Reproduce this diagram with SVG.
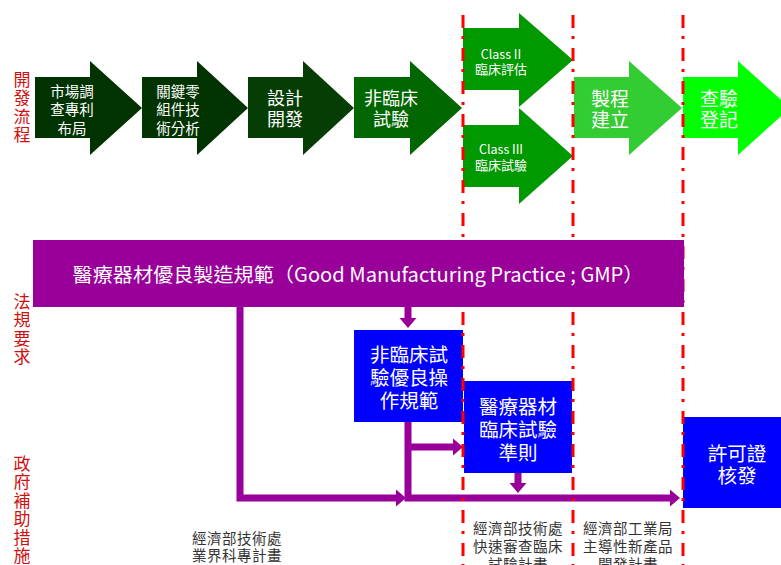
<svg xmlns="http://www.w3.org/2000/svg" width="781" height="565" viewBox="0 0 781 565">
<defs>
<style>
.t{font-family:"Noto Sans CJK TC","Noto Sans",sans-serif;fill:#fff;text-anchor:middle;dominant-baseline:central}
.lab{font-family:"Noto Sans CJK TC",sans-serif;fill:#d01010;font-size:17px;text-anchor:middle;dominant-baseline:central}
.note{font-family:"Noto Sans CJK TC",sans-serif;fill:#333;font-size:14.5px;text-anchor:middle;dominant-baseline:central;letter-spacing:0.5px}
.conn{fill:none;stroke:#990099;stroke-width:7;stroke-linejoin:miter}
.red{stroke:#ff0000;stroke-width:3;stroke-dasharray:13 8 3 9;fill:none}
.box{fill:#0000ff}
</style>
<marker id="ah" markerUnits="userSpaceOnUse" markerWidth="11" markerHeight="18" refX="0" refY="8.5" orient="auto" overflow="visible">
<path d="M0,0 L10,8.5 L0,17 z" fill="#990099"/>
</marker>
</defs>
<rect width="781" height="565" fill="#fff"/>

<g id="label-dev">
<text class="lab" x="22" y="78">開</text><text class="lab" x="22" y="96.5">發</text><text class="lab" x="22" y="115">流</text><text class="lab" x="22" y="133.5">程</text>
</g>
<g id="label-reg">
<text class="lab" x="22" y="300">法</text><text class="lab" x="22" y="318.5">規</text><text class="lab" x="22" y="337">要</text><text class="lab" x="22" y="355.5">求</text>
</g>
<g id="label-gov">
<text class="lab" x="22" y="462">政</text><text class="lab" x="22" y="480.5">府</text><text class="lab" x="22" y="499">補</text><text class="lab" x="22" y="517.5">助</text><text class="lab" x="22" y="536">措</text><text class="lab" x="22" y="554.5">施</text>
</g>

<g id="step1">
<polygon points="35,77 90,77 90,61 142,108 90,155 90,138 35,138" fill="#003300"/>
<text class="t" font-size="14.5" x="72" y="90">市場調</text><text class="t" font-size="14.5" x="72" y="108.5">查專利</text><text class="t" font-size="14.5" x="72" y="127">布局</text>
</g>
<g id="step2">
<polygon points="142,77 197,77 197,61 248,108 197,155 197,138 142,138" fill="#003300"/>
<text class="t" font-size="14.5" x="178" y="90">關鍵零</text><text class="t" font-size="14.5" x="178" y="108.5">組件技</text><text class="t" font-size="14.5" x="178" y="127">術分析</text>
</g>
<g id="step3">
<polygon points="248,77 303,77 303,61 354,108 303,155 303,138 248,138" fill="#053d05"/>
<text class="t" font-size="18" x="285" y="97">設計</text><text class="t" font-size="18" x="285" y="118">開發</text>
</g>
<g id="step4">
<polygon points="354,77 410,77 410,61 462,108 410,155 410,138 354,138" fill="#006600"/>
<text class="t" font-size="18" x="391" y="97">非臨床</text><text class="t" font-size="18" x="391" y="118">試驗</text>
</g>
<g id="step5a">
<polygon points="463,28 519,28 519,13 573,60 519,107 519,90 463,90" fill="#009900"/>
<text class="t" font-size="12.5" x="501" y="53">Class II</text><text class="t" font-size="13" x="501" y="68.5">臨床評估</text>
</g>
<g id="step5b">
<polygon points="463,125 519,125 519,108 573,156 519,204 519,187 463,187" fill="#009900"/>
<text class="t" font-size="12.5" x="501" y="148">Class III</text><text class="t" font-size="13" x="501" y="164">臨床試驗</text>
</g>
<g id="step6">
<polygon points="574,77 629,77 629,61 682,108 629,155 629,138 574,138" fill="#33cc33"/>
<text class="t" font-size="19" x="610" y="97">製程</text><text class="t" font-size="19" x="610" y="118">建立</text>
</g>
<g id="step7">
<polygon points="683,77 738,77 738,61 790,108 738,155 738,138 683,138" fill="#00ff00"/>
<text class="t" font-size="19" x="719" y="97">查驗</text><text class="t" font-size="19" x="719" y="118">登記</text>
</g>

<g id="box-glp">
<rect class="box" x="354" y="330" width="109" height="92"/>
<text class="t" font-size="19.5" x="409" y="353">非臨床試</text><text class="t" font-size="19.5" x="409" y="376">驗優良操</text><text class="t" font-size="19.5" x="409" y="399">作規範</text>
</g>
<g id="box-gcp">
<rect class="box" x="464" y="381" width="108" height="92"/>
<text class="t" font-size="19.5" x="518" y="405">醫療器材</text><text class="t" font-size="19.5" x="518" y="428">臨床試驗</text><text class="t" font-size="19.5" x="518" y="451">準則</text>
</g>
<g id="box-license">
<rect class="box" x="683" y="417" width="100" height="91"/>
<text class="t" font-size="19.5" x="737" y="452">許可證</text><text class="t" font-size="19.5" x="737" y="474">核發</text>
</g>

<g id="connectors">
<path class="conn" d="M240,307 V498 H396" marker-end="url(#ah)"/>
<path class="conn" d="M408,307 V318" marker-end="url(#ah)"/>
<path class="conn" d="M408,422 V498 H670" marker-end="url(#ah)"/>
<path class="conn" d="M408,447 H453" marker-end="url(#ah)"/>
<path class="conn" d="M518,473 V483" marker-end="url(#ah)"/>
</g>

<g id="phase-lines">
<line class="red" x1="463" y1="15" x2="463" y2="565"/>
<line class="red" x1="573" y1="15" x2="573" y2="565"/>
<line class="red" x1="683" y1="15" x2="683" y2="565"/>
</g>

<g id="gmp">
<rect x="33" y="240" width="651" height="67" fill="#990099"/>
<text class="t" font-size="19.5" x="358" y="273" textLength="571" lengthAdjust="spacingAndGlyphs">醫療器材優良製造規範（Good Manufacturing Practice ; GMP）</text>
</g>

<g id="notes">
<text class="note" x="237" y="537">經濟部技術處</text><text class="note" x="237" y="554">業界科專計畫</text>
<text class="note" x="518" y="527">經濟部技術處</text><text class="note" x="518" y="545">快速審查臨床</text><text class="note" x="518" y="563">試驗計畫</text>
<text class="note" x="628" y="527">經濟部工業局</text><text class="note" x="628" y="545">主導性新產品</text><text class="note" x="628" y="563">開發計畫</text>
</g>
</svg>
